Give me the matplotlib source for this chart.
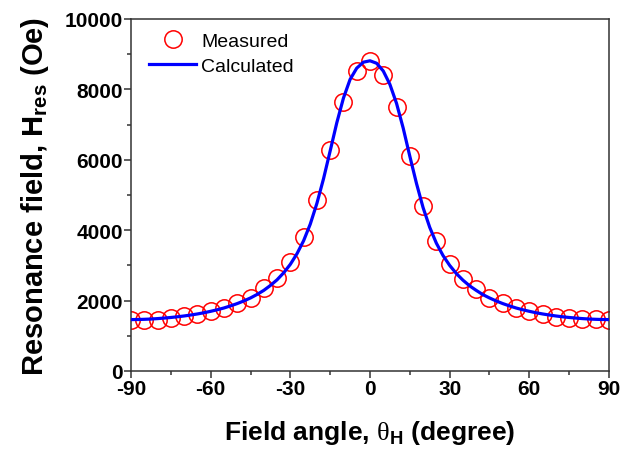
import matplotlib
matplotlib.use('Agg')
import matplotlib.pyplot as plt
from matplotlib.ticker import MultipleLocator

plt.rcParams['font.family'] = ['Liberation Sans', 'DejaVu Sans']
plt.rcParams['mathtext.fontset'] = 'custom'
plt.rcParams['mathtext.rm'] = 'Liberation Serif'
plt.rcParams['mathtext.bf'] = 'Liberation Sans:bold'
plt.rcParams['axes.unicode_minus'] = False

# Measured points (every 5 degrees)
meas_angle = [-90, -85, -80, -75, -70, -65, -60, -55, -50, -45, -40, -35, -30, -25, -20,
              -15, -10, -5, 0, 5, 10, 15, 20, 25, 30, 35, 40, 45, 50, 55, 60, 65, 70,
              75, 80, 85, 90]
meas_field = [1460, 1460, 1460, 1500, 1550, 1610, 1700, 1800, 1920, 2080, 2350, 2640,
              3100, 3800, 4850, 6290, 7630, 8530, 8810, 8410, 7500, 6120, 4700, 3680,
              3030, 2610, 2330, 2070, 1920, 1800, 1690, 1610, 1540, 1500, 1480, 1470, 1460]

# Calculated curve (every 2.5 degrees)
calc_angle = [-90, -87.5, -85, -82.5, -80, -77.5, -75, -72.5, -70, -67.5, -65, -62.5,
              -60, -57.5, -55, -52.5, -50, -47.5, -45, -42.5, -40, -37.5, -35, -32.5,
              -30, -27.5, -25, -22.5, -20, -17.5, -15, -12.5, -10, -7.5, -5, -2.5, 0,
              2.5, 5, 7.5, 10, 12.5, 15, 17.5, 20, 22.5, 25, 27.5, 30, 32.5, 35, 37.5,
              40, 42.5, 45, 47.5, 50, 52.5, 55, 57.5, 60, 62.5, 65, 67.5, 70, 72.5, 75,
              77.5, 80, 82.5, 85, 87.5, 90]
calc_field = [1460, 1462, 1468, 1476, 1488, 1503, 1520, 1540, 1563, 1590, 1620, 1655,
              1695, 1740, 1790, 1850, 1915, 1990, 2075, 2175, 2290, 2430, 2590, 2790,
              3030, 3330, 3700, 4170, 4760, 5460, 6250, 7050, 7750, 8280, 8600, 8770, 8810,
              8740, 8520, 8140, 7600, 6900, 6100, 5330, 4640, 4080, 3630, 3280, 3000, 2770,
              2580, 2420, 2290, 2170, 2075, 1990, 1915, 1850, 1790, 1740, 1695, 1655, 1620,
              1590, 1563, 1540, 1520, 1503, 1488, 1476, 1468, 1462, 1460]

fig = plt.figure(figsize=(6.33, 4.52), dpi=100)
ax = fig.add_axes([0.207, 0.177, 0.755, 0.779])

ax.plot(meas_angle, meas_field, 'o', ms=12.5, mfc='none', mec='red', mew=1.1,
        label='Measured', zorder=2)
ax.plot(calc_angle, calc_field, '-', color='blue', lw=2.3, label='Calculated', zorder=3)

ax.set_xlim(-90, 90)
ax.set_ylim(0, 10000)
ax.xaxis.set_major_locator(MultipleLocator(30))
ax.xaxis.set_minor_locator(MultipleLocator(15))
ax.yaxis.set_major_locator(MultipleLocator(2000))
ax.yaxis.set_minor_locator(MultipleLocator(1000))

for s in ax.spines.values():
    s.set_color('#333333')
    s.set_linewidth(1.1)
ax.tick_params(which='both', direction='out', top=False, right=False,
               color='#333333', width=1.1)
ax.tick_params(which='major', length=5, labelsize=15, pad=1)
ax.tick_params(which='minor', length=3)
for lbl in ax.get_xticklabels() + ax.get_yticklabels():
    lbl.set_fontweight('bold')

ax.set_xlabel(r'Field angle, $\mathrm{\theta}_\mathbf{H}$ (degree)',
              fontsize=19, fontweight='bold', labelpad=14)
ax.set_ylabel(r'Resonance field, H$_\mathbf{res}$ (Oe)',
              fontsize=21, fontweight='bold', labelpad=10)

ax.legend(loc='upper left', frameon=False, fontsize=14, handlelength=2.4,
          handletextpad=0.25, borderaxespad=0.3, labelspacing=0.35,
          bbox_to_anchor=(0.01, 1.0))

fig.savefig('out.png', dpi=100)
